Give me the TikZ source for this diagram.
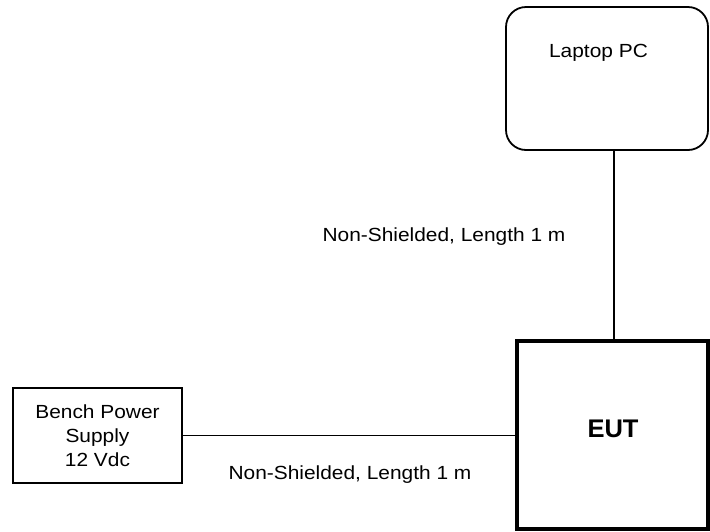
\documentclass[tikz,border=0pt]{standalone}
\usepackage{fontspec}
\setmainfont{Liberation Sans}
\begin{document}
\begin{tikzpicture}[x=1pt,y=-1pt,
  box/.style={draw=black,line width=1.8pt,fill=white,inner sep=0pt},
  lbl/.style={inner sep=0pt,font=\fontsize{19}{24}\selectfont,align=center},
  wire/.style={draw=black,line width=1.3pt}]
\useasboundingbox (0,0) rectangle (710,531);
\node[box,rounded corners=20pt,minimum width=202pt,minimum height=143pt] (laptop) at (607,78.5) {};
\node[lbl] (laptoptext) at (598.5,53) {\scalebox{1.1}[1]{Laptop PC}};
\node[box,line width=3.2pt,minimum width=191pt,minimum height=188pt] (eut) at (612.5,435) {};
\node[inner sep=0pt,font=\fontsize{25.5}{30}\selectfont\bfseries] (euttext) at (613,429) {EUT};
\node[box,minimum width=169pt,minimum height=95pt] (bench) at (97.5,435.5) {};
\node[lbl] (benchtext) at (97.5,436) {\scalebox{1.1}[1]{Bench Power}\\\scalebox{1.1}[1]{Supply}\\\scalebox{1.1}[1]{12 Vdc}};
\draw[wire] ([xshift=1.5pt]eut.north |- laptop.south) -- ([xshift=1.5pt]eut.north);
\draw[wire] (bench.east) -- (bench.east -| eut.west);
\node[lbl] (cable1) at (444,237) {\scalebox{1.1}[1]{Non-Shielded, Length 1 m}};
\node[lbl] (cable2) at (350,475) {\scalebox{1.1}[1]{Non-Shielded, Length 1 m}};
\end{tikzpicture}
\end{document}
